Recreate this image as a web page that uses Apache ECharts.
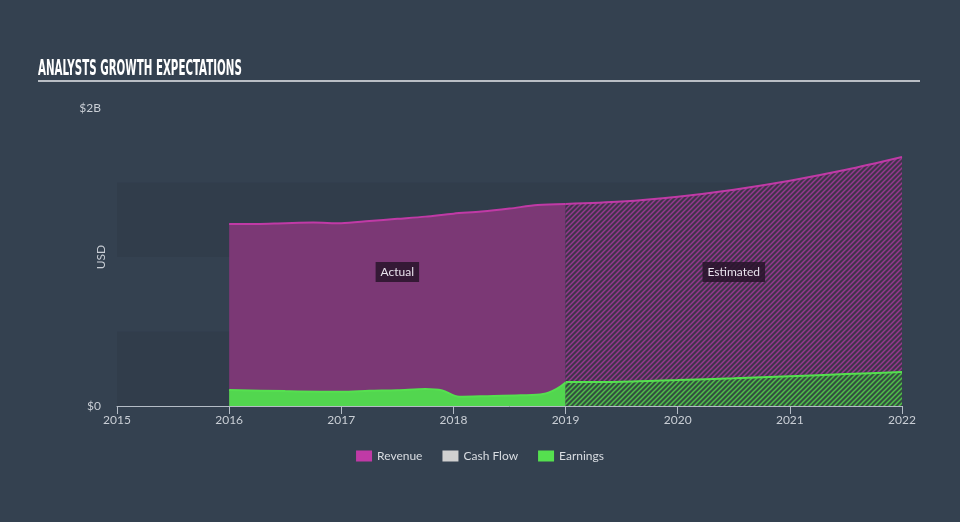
<!DOCTYPE html>
<html>
<head>
<meta charset="utf-8">
<script src="https://cdn.jsdelivr.net/npm/echarts@6/dist/echarts.min.js"></script>
<style>
html,body{margin:0;padding:0;background:#344150;}
#c{width:960px;height:522px;}
</style>
</head>
<body>
<div id="c"></div>
<script>
// ---- data (values in USD) ----
const yearTicks = [2015, 2016, 2017, 2018, 2019, 2020, 2021, 2022];
const revActualT = [2016.0, 2016.25, 2016.5, 2016.75, 2017.0, 2017.25, 2017.5, 2017.75, 2018.0, 2018.25, 2018.5, 2018.75, 2019.0];
const revActualV = [1.221e9, 1.222e9, 1.227e9, 1.231e9, 1.227e9, 1.241e9, 1.256e9, 1.271e9, 1.291e9, 1.305e9, 1.325e9, 1.349e9, 1.356e9];
const revEstT = [2019.0, 2019.5, 2020.0, 2020.5, 2021.0, 2021.5, 2022.0];
const revEstV = [1.356e9, 1.372e9, 1.405e9, 1.452e9, 1.512e9, 1.585e9, 1.671e9];
const earnActualT = [2016.0, 2016.5, 2017.0, 2017.25, 2017.5, 2017.75, 2017.9, 2018.05, 2018.3, 2018.6, 2018.8, 2018.92, 2019.0];
const earnActualV = [0.107e9, 0.100e9, 0.096e9, 0.102e9, 0.106e9, 0.114e9, 0.104e9, 0.062e9, 0.066e9, 0.072e9, 0.080e9, 0.115e9, 0.158e9];
const earnEstT = [2019.0, 2019.5, 2020.0, 2020.5, 2021.0, 2021.5, 2022.0];
const earnEstV = [0.161e9, 0.163e9, 0.174e9, 0.186e9, 0.200e9, 0.214e9, 0.228e9];
const cashFlowT = [];
const cashFlowV = [];
const legendNames = ['Revenue', 'Cash Flow', 'Earnings'];
const annotations = [['Actual', 2017.5, 0.9e9], ['Estimated', 2020.5, 0.9e9]];

function pairs(t, v) { return t.map((x, i) => [x, v[i]]); }

function hatch(base, stripe) {
  const s = 5;
  const c = document.createElement('canvas');
  c.width = s; c.height = s;
  const g = c.getContext('2d');
  g.fillStyle = base; g.fillRect(0, 0, s, s);
  g.strokeStyle = stripe; g.lineWidth = 1.5;
  g.beginPath();
  g.moveTo(-1, s + 1); g.lineTo(s + 1, -1);
  g.moveTo(-1, 1); g.lineTo(1, -1);
  g.moveTo(s - 1, s + 1); g.lineTo(s + 1, s - 1);
  g.stroke();
  return { image: c, repeat: 'repeat' };
}

const REV = '#c03aa6';
const EARN = '#55e04f';
const CASH = '#d0d0d0';

const chart = echarts.init(document.getElementById('c'), null, { renderer: 'canvas' });
chart.setOption({
  backgroundColor: '#344150',
  animation: false,
  textStyle: { fontFamily: 'Lato, "Open Sans", sans-serif' },
  graphic: [
    { type: 'text', left: 38, top: 58, scaleX: 0.52, style: { text: 'ANALYSTS GROWTH EXPECTATIONS', fill: '#ffffff', font: 'bold 22px "Liberation Sans Narrow", "DejaVu Sans Condensed", sans-serif' } },
    { type: 'rect', shape: { x: 38, y: 80, width: 882, height: 2 }, style: { fill: '#b9bec5' } }
  ],
  legend: {
    data: legendNames,
    bottom: 55,
    left: 'center',
    itemWidth: 16,
    itemHeight: 11,
    itemGap: 20,
    icon: 'rect',
    selectedMode: false,
    textStyle: { color: '#d9dde2', fontSize: 12, fontFamily: 'Lato, sans-serif' }
  },
  grid: { left: 117, right: 58, top: 108, bottom: 116, containLabel: false },
  xAxis: {
    type: 'value',
    min: 2015, max: 2022, interval: 1,
    axisLine: { lineStyle: { color: '#b4bcc6', width: 1 } },
    axisTick: { show: true, length: 8, lineStyle: { color: '#b4bcc6' } },
    axisLabel: { color: '#c9ced5', fontSize: 12, margin: 8, formatter: v => String(v), fontFamily: 'Lato, sans-serif' },
    splitLine: { show: false }
  },
  yAxis: {
    type: 'value',
    min: 0, max: 2e9, interval: 0.5e9,
    name: 'USD', nameLocation: 'middle', nameGap: 10, nameMoveOverlap: false,
    nameTextStyle: { color: '#c9ced5', fontSize: 12 },
    axisLine: { show: false },
    axisTick: { show: false },
    axisLabel: {
      color: '#c9ced5', fontSize: 12, margin: 16,
      formatter: v => v === 0 ? '$0' : (v === 2e9 ? '$2B' : '')
    },
    splitLine: { show: false },
    splitArea: { show: true, areaStyle: { color: ['rgba(30,38,50,0.13)', 'rgba(0,0,0,0)'] } }
  },
  series: [
    {
      name: 'Revenue', type: 'line', data: pairs(revActualT, revActualV),
      smooth: 0.3, symbol: 'none', color: REV,
      lineStyle: { color: REV, width: 2 },
      areaStyle: { color: '#7b3875', opacity: 1 },
      markPoint: {
        symbol: 'rect', symbolSize: 0,
        label: { show: true, position: 'inside', formatter: p => p.name, color: '#e8e2ec', fontSize: 12, backgroundColor: 'rgba(40,20,42,0.85)', padding: [4, 5] },
        data: [{ name: annotations[0][0], coord: [annotations[0][1], annotations[0][2]] }]
      },
      z: 2
    },
    {
      name: 'Revenue Est', type: 'line', data: pairs(revEstT, revEstV),
      smooth: 0.3, symbol: 'none', color: REV,
      lineStyle: { color: REV, width: 2 },
      areaStyle: { color: hatch('#40344a', '#94398f'), opacity: 1 },
      markPoint: {
        symbol: 'rect', symbolSize: 0,
        label: { show: true, position: 'inside', formatter: p => p.name, color: '#e8e2ec', fontSize: 12, backgroundColor: 'rgba(40,20,42,0.85)', padding: [4, 5] },
        data: [{ name: annotations[1][0], coord: [annotations[1][1], annotations[1][2]] }]
      },
      z: 2
    },
    {
      name: 'Cash Flow', type: 'line', data: pairs(cashFlowT, cashFlowV),
      symbol: 'none', color: CASH, lineStyle: { color: CASH }
    },
    {
      name: 'Earnings', type: 'line', data: pairs(earnActualT, earnActualV),
      smooth: 0.3, symbol: 'none', color: EARN,
      lineStyle: { color: EARN, width: 2 },
      areaStyle: { color: '#52d64f', opacity: 1 },
      z: 3
    },
    {
      name: 'Earnings Est', type: 'line', data: pairs(earnEstT, earnEstV),
      smooth: 0.3, symbol: 'none', color: EARN,
      lineStyle: { color: EARN, width: 2 },
      areaStyle: { color: hatch('#34503f', '#4fbf4b'), opacity: 1 },
      z: 3
    }
  ]
});
</script>
</body>
</html>
